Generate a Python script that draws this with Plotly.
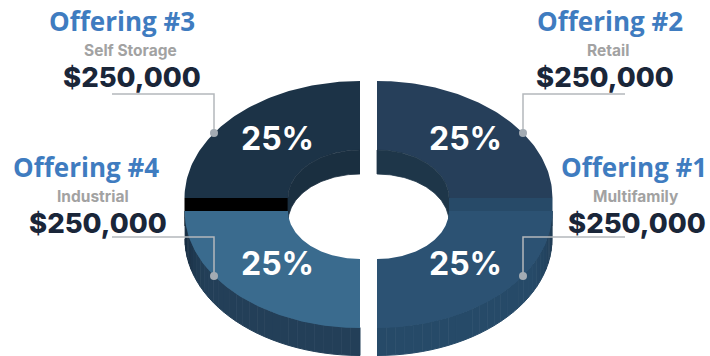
import numpy as np
import plotly.graph_objects as go

# Portfolio allocation
offerings = ["Offering #1", "Offering #2", "Offering #3", "Offering #4"]
sectors = ["Multifamily", "Retail", "Self Storage", "Industrial"]
amounts = [250000, 250000, 250000, 250000]
shares = [25, 25, 25, 25]

# Colours per slice
face_colors = ["#2c5273", "#263f5a", "#1c3347", "#3a6b8e"]
wall_colors = ["#264a68", "#1e3649", "#1a2f40", "#233f58"]
cut_colors = ["#264a68", "#274a68", "#000000", "#000000"]
rim_dark = {0: "#1f3a52", 3: "#12273a"}

# Donut geometry, in page pixels
RX, RY = 175.5, 117
IX, IY = 72, 48
CX, CY = 368.5, 204.5
SPREAD_X, SPREAD_Y = 8.5, 6.5
DEPTH, HOLE_DROP = 28, 24

# Slices run counter-clockwise from the bottom of the ring
edges = 270 + 360 * np.cumsum([0] + shares) / sum(shares)

fig = go.Figure()


def poly(x, y, color, edge=0):
    fig.add_trace(go.Scatter(x=np.round(x, 2), y=np.round(y, 2), mode="lines", fill="toself",
                             fillcolor=color, line=dict(width=edge, color=color),
                             hoverinfo="skip", showlegend=False))


def arc(cx, cy, rx, ry, a0, a1, n=80):
    t = np.radians(np.linspace(a0, a1, n))
    return cx + rx * np.cos(t), cy - ry * np.sin(t)


def mix(c0, c1, f):
    a = [int(c0[i:i + 2], 16) for i in (1, 3, 5)]
    b = [int(c1[i:i + 2], 16) for i in (1, 3, 5)]
    return "rgb(%d,%d,%d)" % tuple(round(p + (q - p) * f) for p, q in zip(a, b))


def slice_center(a0, a1):
    mid = np.radians((a0 + a1) / 2)
    return CX + SPREAD_X * np.sign(np.cos(mid)), CY - SPREAD_Y * np.sign(np.sin(mid))


slices = list(zip(edges[:-1], edges[1:]))

# Upper slices first: cut face and inner wall sit behind the lower ones
for i in (1, 2):
    a0, a1 = slices[i]
    cx, cy = slice_center(a0, a1)
    sx = np.sign(np.cos(np.radians((a0 + a1) / 2)))
    poly(np.array([cx + sx * IX, cx + sx * RX, cx + sx * RX, cx + sx * IX]),
         np.array([cy, cy, cy + DEPTH, cy + DEPTH]), cut_colors[i])
    ox, oy = arc(cx, cy, RX, RY, a0, a1)
    ix, iy = arc(cx, cy, IX, IY, a1, a0)
    poly(np.r_[ox, ix], np.r_[oy, iy], face_colors[i])
    tx, ty = arc(cx, cy, IX, IY, a0, a1)
    bx, by = arc(cx, cy + HOLE_DROP, IX, IY, a1, a0)
    poly(np.r_[tx, bx], np.r_[ty, by], wall_colors[i], edge=0.8)

# Lower slices: shaded outer rim, then the top face
for i in (0, 3):
    a0, a1 = slices[i]
    cx, cy = slice_center(a0, a1)
    steps = np.linspace(a0, a1, 31)
    for s0, s1 in zip(steps[:-1], steps[1:]):
        ax, ay = arc(cx, cy, RX - 0.5, RY - 0.5, s0, s1, 5)
        off = abs(np.sin(np.radians((s0 + s1) / 2)))
        poly(np.r_[ax, ax[::-1]], np.r_[ay, ay[::-1] + DEPTH],
             mix(rim_dark[i], wall_colors[i], min(off * 2.2, 1)), edge=1)
    ox, oy = arc(cx, cy, RX, RY, a0, a1)
    ix, iy = arc(cx, cy, IX, IY, a1, a0)
    poly(np.r_[ox, ix], np.r_[oy, iy], face_colors[i])

# Leader lines: elbow from the value label to a dot on the slice
for i, (a0, a1) in enumerate(slices):
    mid = np.radians((a0 + a1) / 2)
    sx, sy = np.sign(np.cos(mid)), np.sign(np.sin(mid))
    cx, cy = slice_center(a0, a1)
    dot_x = cx + sx * 146
    dot_y = cy - sy * 65
    run_y = dot_y - 39
    fig.add_trace(go.Scatter(x=[dot_x + sx * 102, dot_x, dot_x], y=[run_y, run_y, dot_y], mode="lines",
                             line=dict(color="#b4b8bc", width=1.5), hoverinfo="skip", showlegend=False))
    fig.add_trace(go.Scatter(x=[dot_x], y=[dot_y], mode="markers",
                             marker=dict(color="#a3abb3", size=8), hoverinfo="skip", showlegend=False))

    # Share printed on the slice
    fig.add_annotation(x=CX + 2.5 + sx * 94, y=cy - sy * 60 if sy > 0 else cy - sy * 52,
                       text=f"{shares[i]}%", showarrow=False,
                       font=dict(family="Inter", size=32, color="#ffffff", weight=700))

# Text blocks beside the ring: (offering x, sector x, amount x, offering y)
blocks = [(634, 636, 637, 167), (610, 608, 605, 21), (122, 130, 132, 21), (86, 93, 98, 167)]
for i, (x0, x1, x2, y0) in enumerate(blocks):
    fig.add_annotation(x=x0, y=y0, text=offerings[i], showarrow=False, borderpad=0,
                       font=dict(family="Open Sans", size=26, color="#3f7cc0", weight=700))
    fig.add_annotation(x=x1, y=y0 + 29, text=sectors[i], showarrow=False, borderpad=0,
                       font=dict(family="Inter", size=15.5, color="#a2a2a2", weight=700))
    fig.add_annotation(x=x2, y=y0 + 56, text=f"${amounts[i]:,}", showarrow=False, borderpad=0,
                       font=dict(family="Inter", size=27.5, color="#1a2639", weight=800))

fig.update_layout(width=710, height=356, margin=dict(l=0, r=0, t=0, b=0),
                  paper_bgcolor="#ffffff", plot_bgcolor="#ffffff", showlegend=False,
                  xaxis=dict(range=[0, 710], visible=False, fixedrange=True),
                  yaxis=dict(range=[356, 0], visible=False, fixedrange=True))
fig.write_html("out.html", config={"displayModeBar": False})
